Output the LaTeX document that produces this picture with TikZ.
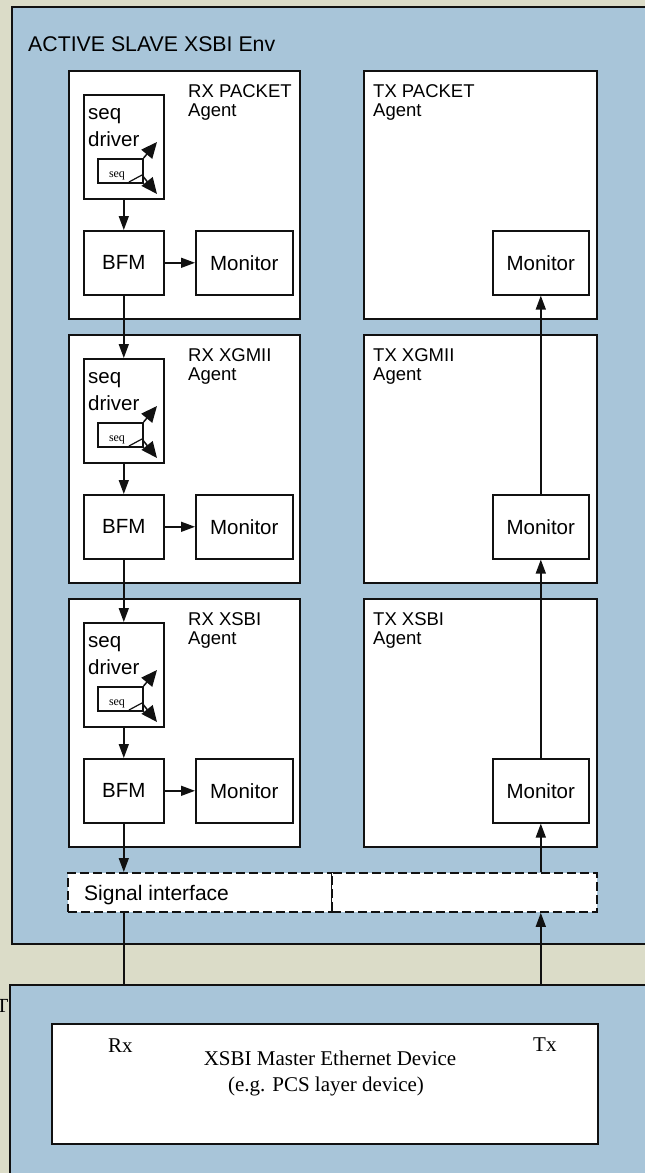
\documentclass[tikz,border=0pt]{standalone}
\usepackage{fontspec}
\setmainfont{Liberation Sans}
\newfontfamily\devfont{Liberation Serif}
\usetikzlibrary{arrows.meta}
\definecolor{paper}{HTML}{DBDCC8}
\definecolor{envblue}{HTML}{A8C5D9}
\definecolor{inkline}{HTML}{111111}

\tikzset{
  envbox/.style={draw=inkline, line width=1.5pt, fill=envblue, rectangle, inner sep=0pt, anchor=north west},
  agentbox/.style={draw=inkline, line width=2pt, fill=white, rectangle, inner sep=0pt, anchor=north west},
  unitbox/.style={draw=inkline, line width=1.6pt, fill=white, rectangle, inner sep=0pt, anchor=north west, font=\fontsize{20.5}{22}\selectfont},
  seqbox/.style={draw=inkline, line width=1.6pt, fill=white, rectangle, inner sep=0pt, anchor=north west},
  sigbox/.style={draw=inkline, line width=1.8pt, dash pattern=on 9pt off 4pt, fill=white, rectangle, inner sep=0pt, anchor=north west},
  lbl/.style={inner sep=0pt, anchor=base west, font=\fontsize{20.5}{22}\selectfont},
  agentlbl/.style={inner sep=0pt, anchor=base west, font=\fontsize{18.5}{19}\selectfont},
  devlbl/.style={inner sep=0pt, anchor=base, font=\devfont\fontsize{21}{22}\selectfont},
  flow/.style={draw=inkline, line width=1.5pt, -{Triangle[length=14pt,width=10pt]}},
  plainline/.style={draw=inkline, line width=1.5pt},
  seqflow/.style={draw=inkline, line width=1.5pt, -{Triangle[length=16pt,width=14pt]}},
}

\begin{document}
\begin{tikzpicture}[x=1pt,y=-1pt]
\useasboundingbox (0,0) rectangle (645,1173);
\clip (0,0) rectangle (645,1173);
\fill[paper] (0,0) rectangle (645,1173);

% environment
\node[envbox, minimum width=660pt, minimum height=937pt] (env) at (11,6) {};
\node[lbl, font=\fontsize{21.3}{23}\selectfont] (envlabel) at (28,51) {ACTIVE SLAVE XSBI Env};

% three agent rows
\foreach \r/\o/\rxname/\txname in {1/0/RX PACKET/TX PACKET, 2/264/RX XGMII/TX XGMII, 3/528/RX XSBI/TX XSBI}{
  \node[agentbox, minimum width=231pt, minimum height=248pt] (rxa\r) at (68,70+\o) {};
  \node[agentbox, minimum width=233pt, minimum height=248pt] (txa\r) at (363,70+\o) {};
  \node[agentlbl] (rxl\r) at (188,97+\o) {\rxname};
  \node[agentlbl] (rxm\r) at (188,116+\o) {Agent};
  \node[agentlbl] (txl\r) at (373,97+\o) {\txname};
  \node[agentlbl] (txm\r) at (373,116+\o) {Agent};
  % sequencer / driver
  \node[unitbox, minimum width=80pt, minimum height=104pt] (drv\r) at (83,94+\o) {};
  \node[lbl] (drvs\r) at (88,119+\o) {seq};
  \node[lbl] (drvd\r) at (88,146+\o) {driver};
  \node[seqbox, minimum width=45pt, minimum height=24pt] (sq\r) at (97,158+\o) {};
  \node[inner sep=0pt, anchor=base, font=\devfont\fontsize{12}{13}\selectfont] (sqt\r) at (117,177+\o) {seq};
  \coordinate (tipa\r) at (157,142+\o);
  \coordinate (tipb\r) at (157,194+\o);
  \coordinate (hook\r) at (142,175+\o);
  \coordinate (hookf\r) at (129,182+\o);
  \draw[seqflow] (sq\r.north east) -- (tipa\r);
  \draw[plainline, line width=1.2pt] (hookf\r) -- (hook\r);
  \draw[seqflow] (hook\r) -- (tipb\r);
  % BFM and monitors
  \node[unitbox, minimum width=80pt, minimum height=64pt] (bfm\r) at (83,230+\o) {BFM};
  \node[unitbox, minimum width=97pt, minimum height=64pt] (mon\r) at (195,230+\o) {Monitor};
  \node[unitbox, minimum width=96pt, minimum height=64pt] (tmon\r) at (492,230+\o) {Monitor};
  \draw[flow] (drv\r.south) -- (bfm\r.north);
  \draw[flow] (bfm\r.east) -- (mon\r.west);
}

% inter-agent connections
\draw[flow] (bfm1.south) -- (drv2.north);
\draw[flow] (bfm2.south) -- (drv3.north);
\draw[flow] (tmon3.north) -- (tmon2.south);
\draw[flow] (tmon2.north) -- (tmon1.south);

% signal interface
\node[sigbox, minimum width=264pt, minimum height=39pt] (sigl) at (67,872) {};
\node[sigbox, minimum width=265pt, minimum height=39pt] (sigr) at (331,872) {};
\node[lbl, font=\fontsize{21}{22}\selectfont] (sigtext) at (84,900) {Signal interface};

% device side
\node[envbox, minimum width=660pt, minimum height=300pt] (dut) at (9,984) {};
\node[inner sep=0pt, anchor=base east, font=\devfont\fontsize{20}{22}\selectfont] (dutlbl) at (8.5,1012) {T};
\node[draw=inkline, line width=1.8pt, fill=white, rectangle, inner sep=0pt, anchor=north west, minimum width=546pt, minimum height=120pt] (dev) at (51,1023) {};
\node[devlbl] (devname) at (330,1065) {XSBI Master Ethernet Device};
\node[devlbl] (devsub) at (326,1091) {(e.g. PCS layer device)};
\node[devlbl, anchor=base west] (rxlbl) at (108,1052) {Rx};
\node[devlbl, anchor=base west] (txlbl) at (533,1051) {Tx};

% wires through the signal interface
\draw[flow] (bfm3.south) -- (bfm3.south |- sigl.north);
\draw[plainline] (bfm3.south |- sigl.south) -- (bfm3.south |- dut.north);
\draw[flow] (tmon3.south |- dut.north) -- (tmon3.south |- sigr.south);
\draw[flow] (tmon3.south |- sigr.north) -- (tmon3.south);
\end{tikzpicture}
\end{document}
